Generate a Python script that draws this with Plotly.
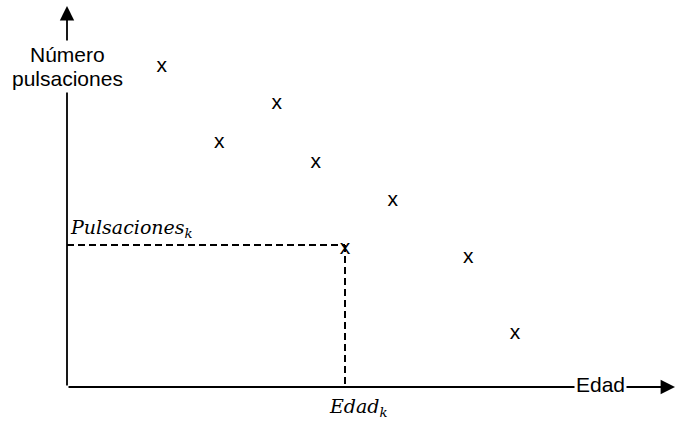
import plotly.graph_objects as go

# Data (arbitrary units)
edad = [9.47, 15.23, 20.97, 24.87, 32.57, 27.8, 40.13, 44.8]
pulsaciones = [32.0, 24.4, 28.3, 22.4, 18.6, 13.8, 12.9, 5.3]
edad_k = 27.8
puls_k = 14.2

x_label = "Edad"
y_label_lines = ["Número", "pulsaciones"]
xk_label = "<i>Edad</i><sub><i>k</i></sub>"
yk_label = "<i>Pulsaciones</i><sub><i>k</i></sub>"

x_end = 60.8
y_end = 38.1

SANS = "Liberation Sans, Arial, Helvetica"
SERIF = "DejaVu Serif, Liberation Serif"

fig = go.Figure()

fig.add_trace(go.Scatter(
    x=edad, y=pulsaciones, mode="text", text=["x"] * len(edad),
    textposition="middle center",
    textfont=dict(family=SANS, size=21, color="black"),
    hoverinfo="skip", showlegend=False,
))

# dashed guide lines
fig.add_shape(type="line", x0=0, y0=puls_k, x1=edad_k, y1=puls_k,
              line=dict(color="black", width=2, dash="7px,4px"))
fig.add_shape(type="line", x0=edad_k, y0=puls_k, x1=edad_k, y1=0,
              line=dict(color="black", width=2, dash="7px,4px"))

annotations = [
    # y axis arrow
    dict(x=0, y=y_end, ax=0, ay=0, xref="x", yref="y", axref="x", ayref="y",
         showarrow=True, arrowhead=2, arrowsize=1.6, arrowwidth=1.8,
         arrowcolor="black", text=""),
    # x axis arrow
    dict(x=x_end, y=0, ax=0, ay=0, xref="x", yref="y", axref="x", ayref="y",
         showarrow=True, arrowhead=2, arrowsize=1.6, arrowwidth=1.8,
         arrowcolor="black", text=""),
    dict(x=0, y=33.3, xref="x", yref="y", text=y_label_lines[0], showarrow=False,
         bgcolor="white", borderpad=2, font=dict(family=SANS, size=21, color="black")),
    dict(x=0, y=30.9, xref="x", yref="y", text=y_label_lines[1], showarrow=False,
         bgcolor="white", borderpad=2, font=dict(family=SANS, size=21, color="black")),
    dict(x=53.35, y=0.3, xref="x", yref="y", text=x_label, showarrow=False,
         bgcolor="white", borderpad=1, font=dict(family=SANS, size=21, color="black")),
    dict(x=0.1, y=14.4, xref="x", yref="y", text=yk_label, showarrow=False,
         xanchor="left", yanchor="bottom",
         font=dict(family=SERIF, size=19, color="black")),
    dict(x=26.0, y=-2.0, xref="x", yref="y", text=xk_label, showarrow=False,
         xanchor="left",
         font=dict(family=SERIF, size=19, color="black")),
]

fig.update_layout(
    width=676, height=422,
    margin=dict(l=0, r=0, t=0, b=0),
    paper_bgcolor="white", plot_bgcolor="white",
    xaxis=dict(range=[-6.7, 60.9], visible=False, fixedrange=True),
    yaxis=dict(range=[-3.5, 38.7], visible=False, fixedrange=True),
    annotations=annotations,
    showlegend=False,
)

fig.write_html("out.html", config={"displayModeBar": False},
               post_script="document.body.style.margin='0';document.body.style.overflow='hidden';")
